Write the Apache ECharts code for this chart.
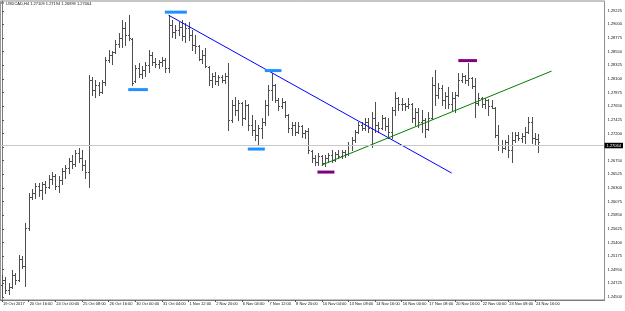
<!DOCTYPE html>
<html><head><meta charset="utf-8">
<script src="https://cdn.jsdelivr.net/npm/echarts@6/dist/echarts.min.js"></script>
<style>html,body{margin:0;padding:0;background:#fff}#c{width:625px;height:311px}</style>
</head><body><div id="c"></div>
<script>
const symbol = 'USDCAD,H4';
const tickLabels = ['19 Oct 2017','20 Oct 16:00','24 Oct 00:00','25 Oct 08:00','26 Oct 16:00','30 Oct 00:00','31 Oct 04:00','1 Nov 12:00','2 Nov 20:00','6 Nov 04:00','7 Nov 12:00','8 Nov 20:00','10 Nov 04:00','13 Nov 08:00','14 Nov 16:00','16 Nov 00:00','17 Nov 08:00','20 Nov 16:00','22 Nov 00:00','23 Nov 08:00','24 Nov 16:00'];
const yTicks = [1.24500,1.24725,1.24950,1.25175,1.25400,1.25625,1.25850,1.26075,1.26300,1.26525,1.26750,1.26975,1.27200,1.27425,1.27650,1.27875,1.28100,1.28325,1.28550,1.28775,1.29000,1.29225];

const opens = [1.24698,1.24776,1.24615,1.24665,1.24863,1.24780,1.25127,1.25010,1.25638,1.26150,
1.26216,1.26331,1.26265,1.26364,1.26315,1.26447,1.26496,1.26331,1.26430,1.26579,
1.26628,1.26744,1.26694,1.26876,1.26793,1.26678,1.26562,1.28080,1.27915,1.27998,
1.27882,1.28047,1.28410,1.28493,1.28542,1.28674,1.28773,1.28938,1.28823,1.28757,
1.28064,1.28278,1.28179,1.28245,1.28328,1.28493,1.28377,1.28344,1.28377,1.28410,
1.28278,1.28988,1.28872,1.28905,1.28955,1.28806,1.28938,1.28823,1.28658,1.28641,
1.28427,1.28493,1.28295,1.28080,1.28146,1.28064,1.28130,1.28080,1.28146,1.27420,
1.27668,1.27585,1.27701,1.27453,1.27668,1.27338,1.27255,1.27173,1.27288,1.27387,
1.27668,1.27915,1.27998,1.27750,1.27651,1.27717,1.27503,1.27288,1.27338,1.27222,
1.27321,1.27206,1.27239,1.26908,1.26793,1.26727,1.26826,1.26711,1.26793,1.26843,
1.26760,1.26859,1.26826,1.26892,1.26859,1.27008,1.27090,1.27222,1.27338,1.27288,
1.27387,1.27288,1.27453,1.27338,1.27288,1.27453,1.27321,1.27222,1.27585,1.27783,
1.27684,1.27684,1.27651,1.27684,1.27453,1.27552,1.27387,1.27420,1.27272,1.27453,
1.27998,1.27833,1.27948,1.27750,1.27816,1.27684,1.27783,1.27833,1.28080,1.28146,
1.28080,1.28113,1.27981,1.27701,1.27783,1.27684,1.27750,1.27651,1.27618,1.27173,
1.27008,1.26958,1.27057,1.26925,1.27090,1.27173,1.27123,1.27156,1.27222,1.27387,
1.27123,1.27109];
const highs = [1.24863,1.24830,1.24731,1.24945,1.24896,1.25193,1.25176,1.25720,1.26216,1.26282,
1.26381,1.26381,1.26397,1.26414,1.26513,1.26562,1.26529,1.26496,1.26628,1.26678,
1.26793,1.26843,1.26925,1.26958,1.26925,1.26760,1.28163,1.28130,1.28080,1.28047,
1.28080,1.28460,1.28575,1.28558,1.28740,1.28856,1.29070,1.29037,1.29152,1.28773,
1.28328,1.28361,1.28311,1.28377,1.28575,1.28542,1.28443,1.28410,1.28460,1.28443,
1.29152,1.29070,1.28988,1.29037,1.29070,1.29021,1.29037,1.28905,1.28823,1.28658,
1.28575,1.28608,1.28311,1.28196,1.28212,1.28163,1.28163,1.28196,1.28361,1.27750,
1.27800,1.27750,1.27717,1.27750,1.27684,1.27503,1.27420,1.27338,1.27453,1.27750,
1.27998,1.28196,1.28014,1.27783,1.27783,1.27734,1.27519,1.27387,1.27387,1.27387,
1.27338,1.27255,1.27288,1.26925,1.26843,1.26876,1.26843,1.26843,1.26876,1.26925,
1.26892,1.26925,1.26925,1.26925,1.27057,1.27140,1.27255,1.27387,1.27387,1.27453,
1.27453,1.27552,1.27717,1.27387,1.27503,1.27470,1.27453,1.27635,1.27882,1.27800,
1.27783,1.27701,1.27783,1.27701,1.27618,1.27618,1.27585,1.27453,1.27552,1.28130,
1.28245,1.28031,1.27998,1.27882,1.27965,1.27882,1.27882,1.28196,1.28196,1.28163,
1.28361,1.28130,1.28113,1.27866,1.27800,1.27783,1.27766,1.27750,1.27635,1.27338,
1.27090,1.27090,1.27173,1.27222,1.27222,1.27222,1.27206,1.27305,1.27470,1.27470,
1.27206,1.27194];
const lows = [1.24516,1.24566,1.24549,1.24648,1.24714,1.24764,1.24978,1.24681,1.25602,1.26117,
1.26133,1.26166,1.26117,1.26216,1.26298,1.26364,1.26282,1.26232,1.26364,1.26463,
1.26546,1.26628,1.26661,1.26727,1.26595,1.26463,1.26315,1.27833,1.27800,1.27833,
1.27866,1.27998,1.28377,1.28344,1.28526,1.28625,1.28625,1.28658,1.28740,1.27998,
1.28047,1.28130,1.28113,1.28146,1.28212,1.28328,1.28295,1.28278,1.28311,1.28212,
1.28212,1.28790,1.28773,1.28823,1.28740,1.28707,1.28740,1.28575,1.28526,1.28410,
1.28361,1.28295,1.27998,1.27965,1.28014,1.27998,1.28047,1.28031,1.27255,1.27387,
1.27503,1.27420,1.27338,1.27436,1.27255,1.27173,1.27090,1.27008,1.27123,1.27338,
1.27503,1.27750,1.27717,1.27585,1.27618,1.27470,1.27222,1.27173,1.27173,1.27206,
1.27140,1.27123,1.26876,1.26727,1.26678,1.26678,1.26678,1.26661,1.26727,1.26727,
1.26744,1.26793,1.26793,1.26810,1.26843,1.26925,1.27057,1.27206,1.27255,1.27255,
1.27222,1.26975,1.27222,1.27222,1.27272,1.27255,1.27123,1.27123,1.27503,1.27585,
1.27585,1.27585,1.27618,1.27387,1.27338,1.27305,1.27222,1.27140,1.27255,1.27436,
1.27668,1.27783,1.27668,1.27618,1.27618,1.27585,1.27552,1.27816,1.28047,1.28031,
1.27998,1.27948,1.27470,1.27668,1.27635,1.27618,1.27503,1.27618,1.27140,1.26925,
1.26892,1.26942,1.26810,1.26727,1.27057,1.27090,1.27057,1.27040,1.27206,1.27040,
1.27008,1.26899];
const closes = [1.24780,1.24615,1.24665,1.24863,1.24780,1.25127,1.25010,1.25638,1.26150,1.26216,
1.26331,1.26265,1.26364,1.26315,1.26447,1.26496,1.26331,1.26430,1.26579,1.26628,
1.26744,1.26694,1.26876,1.26793,1.26678,1.26562,1.28080,1.27915,1.27998,1.27882,
1.28047,1.28410,1.28493,1.28542,1.28674,1.28773,1.28938,1.28823,1.28773,1.28031,
1.28278,1.28179,1.28245,1.28328,1.28493,1.28377,1.28344,1.28377,1.28410,1.28278,
1.28988,1.28872,1.28905,1.28955,1.28806,1.28938,1.28823,1.28658,1.28641,1.28427,
1.28493,1.28311,1.28080,1.28146,1.28064,1.28130,1.28080,1.28146,1.27420,1.27668,
1.27585,1.27701,1.27453,1.27668,1.27338,1.27255,1.27173,1.27288,1.27387,1.27668,
1.27915,1.27998,1.27750,1.27651,1.27717,1.27503,1.27288,1.27338,1.27222,1.27321,
1.27206,1.27239,1.26925,1.26793,1.26727,1.26826,1.26711,1.26793,1.26843,1.26760,
1.26859,1.26826,1.26892,1.26859,1.27008,1.27090,1.27222,1.27338,1.27288,1.27387,
1.27288,1.27453,1.27338,1.27288,1.27453,1.27321,1.27222,1.27585,1.27783,1.27684,
1.27684,1.27651,1.27684,1.27453,1.27552,1.27387,1.27420,1.27272,1.27453,1.27998,
1.27833,1.27948,1.27750,1.27816,1.27684,1.27783,1.27833,1.28080,1.28146,1.28080,
1.28113,1.27981,1.27701,1.27783,1.27684,1.27750,1.27651,1.27618,1.27173,1.27008,
1.26958,1.27057,1.26925,1.27090,1.27173,1.27123,1.27156,1.27222,1.27387,1.27123,
1.27109,1.27064];

// trendlines: [barIndex, price]
const blueTrend = [[50, 1.29152], [135, 1.26546]];
const greenTrend = [[96, 1.26678], [165, 1.28229]];
// price-level markers: [fromBar, toBar, price]
const blueMarks = [[48.9, 55.5, 1.29202], [37.9, 43.8, 1.27923], [78.9, 83.9, 1.28237], [73.8, 78.9, 1.26942]];
const purpleMarks = [[94.7, 99.8, 1.26562], [137.0, 142.6, 1.28402]];

const FONT = 'Liberation Sans';
const last = opens.length - 1;
const lastPrice = closes[last];
const tickIdx = tickLabels.map((_, k) => k * 8);
const ohlc = opens.map((o, i) => [i, o, closes[i], lows[i], highs[i]]);

function renderBar(params, api) {
  const i = api.value(0);
  const po = api.coord([i, api.value(1)]);
  const pc = api.coord([i, api.value(2)]);
  const pl = api.coord([i, api.value(3)]);
  const ph = api.coord([i, api.value(4)]);
  const x = Math.round(po[0]) + 0.5;
  const st = { stroke: '#4e4e4e', lineWidth: 1 };
  const yo = Math.round(po[1]) + 0.5, yc = Math.round(pc[1]) + 0.5;
  return { type: 'group', children: [
    { type: 'line', shape: { x1: x, y1: Math.round(ph[1]), x2: x, y2: Math.round(pl[1]) + 1 }, style: st },
    { type: 'line', shape: { x1: x - 1.5, y1: yo, x2: x, y2: yo }, style: st },
    { type: 'line', shape: { x1: x, y1: yc, x2: x + 1.5, y2: yc }, style: st }
  ]};
}
function markRenderer(color) {
  return function (params, api) {
    const p0 = api.coord([api.value(0), api.value(2)]);
    const p1 = api.coord([api.value(1), api.value(2)]);
    return { type: 'rect', shape: { x: p0[0], y: p0[1] - 1.5, width: p1[0] - p0[0], height: 3 }, style: { fill: color } };
  };
}

const chart = echarts.init(document.getElementById('c'), null, { renderer: 'canvas' });
chart.setOption({
  animation: false,
  backgroundColor: '#fff',
  grid: { left: 0, right: 19, top: 1, bottom: 11, show: true, borderColor: '#8c8c8c', borderWidth: 1, backgroundColor: '#fff' },
  xAxis: {
    type: 'value', min: -0.48, max: 180.9,
    axisLine: { show: true, lineStyle: { color: '#7a7a7a', width: 1 } },
    axisTick: { show: true, customValues: tickIdx, length: 2, lineStyle: { color: '#555' } },
    axisLabel: { customValues: tickIdx, formatter: v => tickLabels[Math.round(v / 8)], align: 'left', margin: 2,
      fontSize: 4, fontFamily: FONT, color: '#111', padding: [0, 0, 0, 1] },
    splitLine: { show: false }
  },
  yAxis: {
    type: 'value', position: 'right', min: 1.2445, max: 1.29386,
    axisLine: { show: true, lineStyle: { color: '#7a7a7a', width: 1 } },
    axisTick: { show: true, customValues: yTicks, length: 2, lineStyle: { color: '#555' } },
    axisLabel: { customValues: yTicks, formatter: v => v.toFixed(5), margin: 3, fontSize: 4, fontFamily: FONT, color: '#111' },
    splitLine: { show: false }
  },
  graphic: [
    { type: 'polygon', shape: { points: [[1, 2.5], [4, 2.5], [2.5, 4.7]] }, style: { fill: '#000' } },
    { type: 'text', x: 6, y: 1.5, style: { text: symbol + ' ' + [opens[last], highs[last], lows[last], closes[last]].map(v => v.toFixed(5)).join(' '),
      fontSize: 4, fontFamily: FONT, fill: '#111' } }
  ],
  series: [
    { type: 'line', data: [], z: 1, silent: true,
      markLine: { silent: true, symbol: 'none', animation: false, data: [{ yAxis: lastPrice }],
        lineStyle: { color: '#c8c8c8', type: 'solid', width: 1 },
        label: { show: true, position: 'end', distance: 0, formatter: () => lastPrice.toFixed(5),
          color: '#fff', backgroundColor: '#000', padding: [1, 2, 0.5, 2], fontSize: 4, fontFamily: FONT } } },
    { type: 'custom', name: 'ohlc', data: ohlc, renderItem: renderBar, z: 2, clip: false, silent: true },
    { type: 'line', data: blueTrend, symbol: 'none', z: 3, silent: true, lineStyle: { color: '#0000ff', width: 1 } },
    { type: 'line', data: greenTrend, symbol: 'none', z: 3, silent: true, lineStyle: { color: '#008000', width: 1 } },
    { type: 'custom', data: blueMarks, renderItem: markRenderer('#1e90ff'), z: 4, silent: true },
    { type: 'custom', data: purpleMarks, renderItem: markRenderer('#800080'), z: 4, silent: true }
  ]
});
</script>
</body></html>
